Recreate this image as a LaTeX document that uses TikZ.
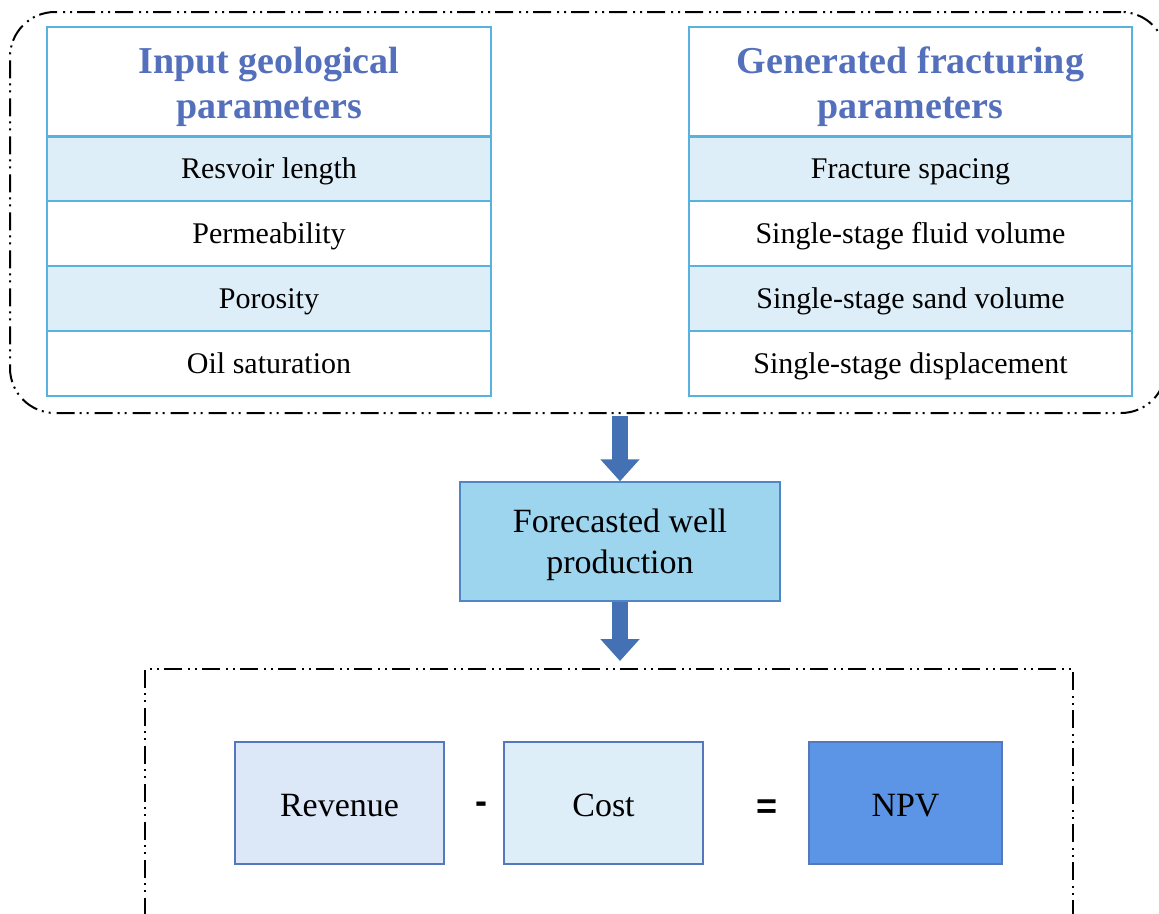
\documentclass[tikz,border=0pt]{standalone}
\usepackage{fontspec}
\setmainfont{Liberation Serif}
\setsansfont{Liberation Sans}
\usetikzlibrary{arrows.meta,positioning,fit,calc}
\definecolor{tblborder}{RGB}{88,178,224}
\definecolor{rowfill}{RGB}{222,238,248}
\definecolor{headtxt}{RGB}{84,112,188}
\definecolor{arrowc}{RGB}{68,112,180}
\definecolor{fcfill}{RGB}{157,213,239}
\definecolor{fcborder}{RGB}{80,134,198}
\definecolor{revfill}{RGB}{220,231,248}
\definecolor{costfill}{RGB}{221,238,249}
\definecolor{npvfill}{RGB}{93,149,230}
\definecolor{boxborder}{RGB}{85,119,187}
\tikzset{
  headbox/.style={draw=tblborder, line width=1.5pt, fill=white, minimum width=444pt, minimum height=109pt,
    inner sep=0pt},
  headtext/.style={text=headtxt, align=center, font=\fontsize{38}{45}\selectfont\bfseries},
  rowA/.style={draw=tblborder, line width=1.5pt, fill=rowfill, minimum width=444pt, minimum height=65pt,
    inner sep=0pt, text height=25pt, text depth=5pt, font=\fontsize{30}{34}\selectfont},
  rowB/.style={rowA, fill=white},
  dashdotdot/.style={dash pattern=on 18pt off 5pt on 2pt off 5pt on 2pt off 6pt},
  outerbox/.style={draw=black, line width=2pt, rounded corners=45pt, dashdotdot, inner sep=0pt},
  bigarrow/.style={arrowc, line width=16pt, -{Triangle[width=38pt,length=22pt]}},
  resbox/.style={draw=boxborder, line width=1.5pt, minimum width=209pt, minimum height=122pt,
    inner sep=0pt, text height=31pt, text depth=4pt, font=\fontsize{34}{40}\selectfont},
  optxt/.style={font=\sffamily\bfseries\fontsize{36}{40}\selectfont, inner sep=0pt}
}
\begin{document}
\begin{tikzpicture}[x=1pt,y=-1pt]
\useasboundingbox (0,0) rectangle (1159,913);
% outer group box
\coordinate (g1) at (10,12);
\coordinate (g2) at (1166,413);
\node[outerbox, fit=(g1)(g2)] (grp) {};
% left table
\node[headbox] (lh) at (269,81.5) {};
\node[headtext] (lht) at (269,86.5) {Input geological\\parameters};
\node[rowA] (l1) at (269,168.5) {Resvoir length};
\node[rowB] (l2) at (269,233.5) {Permeability};
\node[rowA] (l3) at (269,298.5) {Porosity};
\node[rowB] (l4) at (269,363.5) {Oil saturation};
\draw[tblborder, line width=3pt] (lh.south west) -- (lh.south east);
% right table
\node[headbox, minimum width=443pt] (rh) at (910.5,81.5) {};
\node[headtext] (rht) at (910.5,86.5) {Generated fracturing\\parameters};
\node[rowA, minimum width=443pt] (r1) at (910.5,168.5) {Fracture spacing};
\node[rowB, minimum width=443pt] (r2) at (910.5,233.5) {Single-stage fluid volume};
\node[rowA, minimum width=443pt] (r3) at (910.5,298.5) {Single-stage sand volume};
\node[rowB, minimum width=443pt] (r4) at (910.5,363.5) {Single-stage displacement};
\draw[tblborder, line width=3pt] (rh.south west) -- (rh.south east);
% forecast box
\node[draw=fcborder, fill=fcfill, line width=1.5pt, minimum width=320pt, minimum height=119pt, inner sep=0pt] (fc) at (620,541.5) {};
\node[align=center, font=\fontsize{34}{41}\selectfont] (fct) at (620,545) {Forecasted well\\production};
% bottom group box
\coordinate (b1) at (145,669);
\coordinate (b2) at (1073,940);
\node[draw=black, line width=2pt, dashdotdot, inner sep=0pt, fit=(b1)(b2)] (bot) {};
% result boxes
\node[resbox, fill=revfill] (rev) at (339.5,803) {Revenue};
\node[resbox, fill=costfill, minimum width=199pt] (cost) at (603.5,803) {Cost};
\node[resbox, fill=npvfill, minimum width=193pt] (npv) at (905.5,803) {NPV};
\node[optxt] (minus) at (481,808) {-};
\node[optxt] (eq) at (767,809) {=};
% arrows
\coordinate (a1s) at ($(grp.south -| fc.north)+(0,2)$);
\draw[bigarrow] (a1s) -- (fc.north);
\draw[bigarrow, shorten >=7pt] (fc.south) -- (fc.south |- bot.north);
\end{tikzpicture}
\end{document}
